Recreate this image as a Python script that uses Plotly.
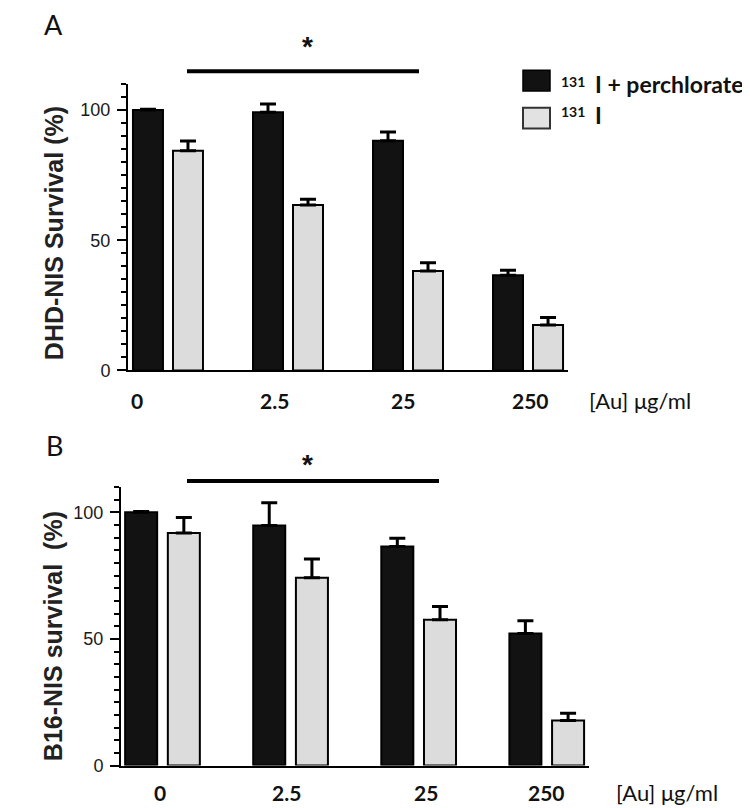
import plotly.graph_objects as go

# ---------------- data ----------------
doses = ["0", "2.5", "25", "250"]
series_names = ["131I + perchlorate", "131I"]

a_perchlorate = [100.0, 99.2, 88.2, 36.6]
a_perchlorate_err = [0.3, 3.1, 3.4, 1.9]
a_iodine = [84.4, 63.5, 38.2, 17.5]
a_iodine_err = [3.7, 2.3, 3.2, 2.8]

b_perchlorate = [100.0, 94.8, 86.5, 52.1]
b_perchlorate_err = [0.3, 9.0, 3.3, 5.1]
b_iodine = [91.8, 74.2, 57.6, 17.8]
b_iodine_err = [6.2, 7.4, 5.2, 2.8]

y_ticks = [0, 50, 100]
x_unit_label = "[Au] μg/ml"

# ---------------- layout helpers ----------------
W, H = 750, 808


def px(x):
    return x / W


def py(y):
    return 1 - y / H


BLACK = "#121212"
GRAY = "#dcdcdc"
ARIAL = "Liberation Sans, Arial, sans-serif"
CALIBRI = "Lato, Carlito, Calibri, sans-serif"

fig = go.Figure()


def add_bars(xa, ya, perch, perch_err, iod, iod_err):
    fig.add_trace(go.Bar(
        x=doses, y=perch, name=series_names[0], xaxis=xa, yaxis=ya,
        marker=dict(color=BLACK, line=dict(color="black", width=2)),
        error_y=dict(type="data", array=perch_err, arrayminus=[0] * len(perch_err),
                     symmetric=False, color="black", thickness=3, width=8),
        showlegend=False,
    ))
    fig.add_trace(go.Bar(
        x=doses, y=iod, name=series_names[1], xaxis=xa, yaxis=ya,
        marker=dict(color=GRAY, line=dict(color="black", width=2)),
        error_y=dict(type="data", array=iod_err, arrayminus=[0] * len(iod_err),
                     symmetric=False, color="black", thickness=3, width=8),
        showlegend=False,
    ))


add_bars("x", "y", a_perchlorate, a_perchlorate_err, a_iodine, a_iodine_err)
add_bars("x2", "y2", b_perchlorate, b_perchlorate_err, b_iodine, b_iodine_err)

xaxis_common = dict(type="category", showticklabels=False, ticks="", showline=True,
                    linewidth=2, linecolor="black", showgrid=False, zeroline=False,
                    fixedrange=True)
yaxis_common = dict(range=[0, 110], tickvals=y_ticks, ticks="outside", ticklen=9,
                    tickwidth=2, tickcolor="black", showline=True, linewidth=2,
                    linecolor="black", showgrid=False, zeroline=False,
                    tickfont=dict(family=ARIAL, size=18, color="#1a1a1a"),
                    ticklabelstandoff=3,
                    minor=dict(dtick=5, tick0=0, ticks="outside", ticklen=5,
                               tickwidth=2, tickcolor="black", showgrid=False),
                    fixedrange=True)

fig.update_layout(
    width=W, height=H,
    margin=dict(l=0, r=0, t=0, b=0),
    paper_bgcolor="white", plot_bgcolor="white",
    barmode="group", bargap=1 / 3, bargroupgap=0.25,
    xaxis=dict(domain=[px(120), px(560)], range=[-0.333, 3.333], anchor="y", **xaxis_common),
    yaxis=dict(domain=[py(367), py(77)], anchor="x", **yaxis_common),
    xaxis2=dict(domain=[px(113), px(581)], range=[-0.324, 3.33], anchor="y2", **xaxis_common),
    yaxis2=dict(domain=[py(767), py(485)], anchor="x2", **yaxis_common),
)

annotations = []
shapes = []

# x category labels (hand-placed in the original figure); x = category index
label_shift_a = [-31, -13, -5, 2]
label_shift_b = [-3, -4, 7, 0]
for i, d in enumerate(doses):
    annotations.append(dict(x=i, xref="x", y=py(397), yref="paper", text=f"<b>{d}</b>",
                            xshift=label_shift_a[i], showarrow=False,
                            font=dict(family=CALIBRI, size=21, color="#111"),
                            xanchor="center", yanchor="middle"))
    annotations.append(dict(x=i, xref="x2", y=py(794), yref="paper", text=f"<b>{d}</b>",
                            xshift=label_shift_b[i], showarrow=False,
                            font=dict(family=CALIBRI, size=21, color="#111"),
                            xanchor="center", yanchor="middle"))

annotations.append(dict(x=px(632), y=py(397), xref="paper", yref="paper", text=x_unit_label,
                        showarrow=False, font=dict(family=CALIBRI, size=22, color="#111"),
                        xanchor="center", yanchor="middle"))
annotations.append(dict(x=px(659), y=py(794), xref="paper", yref="paper", text=x_unit_label,
                        showarrow=False, font=dict(family=CALIBRI, size=22, color="#111"),
                        xanchor="center", yanchor="middle"))

# y axis titles
annotations.append(dict(x=px(46), y=py(228), xref="paper", yref="paper",
                        text="<b>DHD-NIS Survival (%)</b>", textangle=-90, showarrow=False,
                        font=dict(family=ARIAL, size=25, color="#222"),
                        xanchor="center", yanchor="middle"))
annotations.append(dict(x=px(45), y=py(636), xref="paper", yref="paper",
                        text="<b>B16-NIS survival  (%)</b>", textangle=-90, showarrow=False,
                        font=dict(family=ARIAL, size=25, color="#222"),
                        xanchor="center", yanchor="middle"))

# panel letters
annotations.append(dict(x=px(45), y=py(17), xref="paper", yref="paper", text="A",
                        showarrow=False, font=dict(family=CALIBRI, size=27, color="#111"),
                        xanchor="center", yanchor="middle"))
annotations.append(dict(x=px(46), y=py(443), xref="paper", yref="paper", text="B",
                        showarrow=False, font=dict(family=CALIBRI, size=27, color="#111"),
                        xanchor="center", yanchor="middle"))

# significance bars
for (x0, x1, yl, ys) in [(179, 411, 64, 39), (179, 431, 479, 462)]:
    shapes.append(dict(type="line", xref="paper", yref="paper", x0=px(x0), x1=px(x1),
                       y0=py(yl), y1=py(yl), line=dict(color="black", width=4)))
    annotations.append(dict(x=px(299), y=py(ys), xref="paper", yref="paper", text="<b>*</b>",
                            showarrow=False, font=dict(family=ARIAL, size=28, color="#111"),
                            xanchor="center", yanchor="middle"))

# legend (drawn by hand)
shapes.append(dict(type="rect", xref="paper", yref="paper", x0=px(515), x1=px(542),
                   y0=py(84), y1=py(63), fillcolor=BLACK, line=dict(color="black", width=1.5)))
shapes.append(dict(type="rect", xref="paper", yref="paper", x0=px(515), x1=px(542),
                   y0=py(122), y1=py(101), fillcolor="#e2e2e2", line=dict(color="#333", width=2)))
legend_rows = [(series_names[0], 74, 77), (series_names[1], 105, 108)]
for name, ysup, ytxt in legend_rows:
    sup, rest = name[:3], name[3:]
    annotations.append(dict(x=px(551), y=py(ysup), xref="paper", yref="paper", text=f"<b>{sup}</b>",
                            showarrow=False, font=dict(family=CALIBRI, size=14, color="#111"),
                            xanchor="left", yanchor="middle"))
    annotations.append(dict(x=px(585), y=py(ytxt), xref="paper", yref="paper",
                            text=f"<b>{rest}</b>",
                            showarrow=False, font=dict(family=CALIBRI, size=23, color="#111"),
                            xanchor="left", yanchor="middle"))

fig.update_layout(annotations=annotations, shapes=shapes)

fig.write_html("out.html")
